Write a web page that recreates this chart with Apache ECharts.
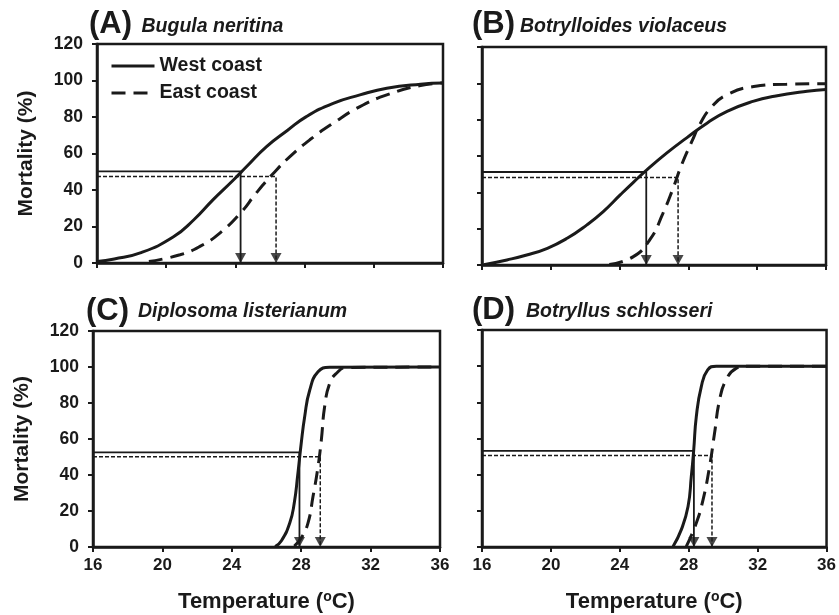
<!DOCTYPE html>
<html>
<head>
<meta charset="utf-8">
<script src="https://cdn.jsdelivr.net/npm/echarts@6/dist/echarts.min.js"></script>
<style>html,body{margin:0;padding:0;background:#fff;}#c{width:839px;height:615px;}</style>
</head>
<body>
<div id="c"></div>
<script>
// ---- data ----
const panelLabels = ['(A)', '(B)', '(C)', '(D)'];
const speciesNames = ['Bugula neritina', 'Botrylloides violaceus', 'Diplosoma listerianum', 'Botryllus schlosseri'];
const seriesNames = ['West coast', 'East coast'];
const xTicks = [16, 20, 24, 28, 32, 36];
const yTicks = [0, 20, 40, 60, 80, 100, 120];

const westA = [[16.0,0.8],[17.0,2.2],[18.5,5.5],[20.4,14.2],[21.6,23.7],[22.7,34.6],[23.9,45.6],[24.65,52.9],[25.8,63.8],[27.0,72.6],[28.1,80.2],[29.65,87.5],[31.2,92.1],[32.75,95.8],[34.7,98.0],[36.0,98.6]];
const eastA = [[19.0,0.8],[20.8,4.5],[21.95,9.1],[23.1,16.4],[24.3,27.4],[25.2,38.3],[26.2,49.2],[27.15,58.3],[28.3,67.5],[29.65,76.6],[31.2,85.7],[32.75,92.1],[34.7,97.3],[36.0,98.6]];
const westB = [[16.1,0.2],[17.45,2.8],[18.6,5.5],[19.8,9.2],[20.95,14.7],[22.1,22.1],[23.05,29.4],[24.05,38.7],[24.8,45.5],[25.6,52.5],[26.75,61.7],[27.9,70.0],[29.1,78.2],[30.25,84.6],[31.8,90.2],[33.0,92.9],[34.9,95.6],[36.0,96.6]];
const eastB = [[23.4,0.3],[24.8,4.6],[25.8,14.5],[26.5,28.0],[27.1,42.0],[27.6,55.0],[28.2,68.0],[28.7,78.0],[29.3,86.5],[30.2,93.5],[31.8,98.2],[33.7,99.5],[36.0,99.8]];
const westC = [[26.5,0.2],[26.86,3.5],[27.34,13.3],[27.6,24.4],[27.8,40.0],[28.0,57.5],[28.2,72.4],[28.49,87.1],[28.97,97.3],[29.64,99.8],[36.0,100]];
const eastC = [[27.6,0.5],[28.0,5.0],[28.39,13.3],[28.68,28.0],[28.97,44.7],[29.16,59.4],[29.35,77.9],[29.64,90.9],[30.02,96.4],[30.6,99.7],[36.0,100]];
const westD = [[27.09,0.3],[27.57,9.6],[27.96,22.4],[28.15,39.0],[28.29,53.7],[28.44,72.1],[28.73,88.7],[29.1,97.9],[29.6,100],[36.0,100]];
const eastD = [[27.86,0.3],[28.44,13.3],[28.83,26.1],[29.21,44.5],[29.5,63.0],[29.79,81.3],[30.17,92.4],[30.75,98.8],[31.33,100],[36.0,100]];

// LT50 temperatures (arrow positions) and the levels of the horizontal guide lines
const westLT50 = [24.3, 25.55, 27.9, 28.3];
const westLevel = [50.2, 51.2, 52.6, 53.2];
const eastLT50 = [26.35, 27.4, 29.1, 29.35];
const eastLevel = [47.4, 48.2, 50.2, 50.6];

const westCurves = [westA, westB, westC, westD];
const eastCurves = [eastA, eastB, eastC, eastD];

// ---- layout ----
const grids = [
  {left: 97, top: 44, width: 346, height: 219},
  {left: 482, top: 47, width: 344, height: 218},
  {left: 93, top: 331, width: 347, height: 216},
  {left: 482, top: 330, width: 345, height: 217}
];
const labelPos = [
  {l: 89, s: 141.5, t: 9, st: 17},
  {l: 472, s: 520, t: 9, st: 17},
  {l: 86, s: 138, t: 296, st: 301.5},
  {l: 472, s: 526, t: 295, st: 301.5}
];
const ink = '#1a1a1a';
const ff = 'Liberation Sans, Arial, sans-serif';

const option = {
  animation: false,
  backgroundColor: '#fff',
  title: [],
  grid: grids.map(g => Object.assign({show: true, borderColor: ink, borderWidth: 2.5, backgroundColor: 'transparent'}, g)),
  legend: {
    data: seriesNames,
    orient: 'vertical',
    left: 110, top: 56, padding: 0,
    itemWidth: 43, itemHeight: 14, itemGap: 7,
    itemStyle: {color: 'rgba(0,0,0,0)', borderColor: 'rgba(0,0,0,0)', borderWidth: 0, opacity: 0},
    lineStyle: {width: 3, color: ink},
    textStyle: {fontFamily: ff, fontWeight: 'bold', fontSize: 19.5, color: ink}
  },
  xAxis: [], yAxis: [], series: []
};

for (let i = 0; i < 4; i++) {
  option.title.push({
    text: panelLabels[i], left: labelPos[i].l, top: labelPos[i].t, padding: 0,
    textStyle: {fontFamily: ff, fontWeight: 'bold', fontSize: 31, color: ink}
  });
  option.title.push({
    text: speciesNames[i], left: labelPos[i].s, top: labelPos[i].st, padding: 0,
    textStyle: {fontFamily: ff, fontWeight: 'bold', fontStyle: 'italic', fontSize: 19.5, color: ink}
  });
  const bottom = i >= 2, leftCol = (i % 2) === 0;
  option.xAxis.push({
    type: 'value', gridIndex: i, min: xTicks[0], max: xTicks[xTicks.length - 1], interval: 4,
    axisLine: {lineStyle: {color: ink, width: 2.5}},
    axisTick: {show: true, length: 5, lineStyle: {color: ink, width: 2}},
    axisLabel: {show: bottom, margin: 10, fontFamily: ff, fontWeight: 'bold', fontSize: 17, color: ink},
    splitLine: {show: false},
    name: bottom ? 'Temperature ({sup|o}C)' : '', nameLocation: 'middle', nameGap: 43,
    nameTextStyle: {fontFamily: ff, fontWeight: 'bold', fontSize: 22, color: ink,
      rich: {sup: {fontFamily: ff, fontWeight: 'bold', fontSize: 14, color: ink, verticalAlign: 'top', padding: [0, 0, 9, 0]}}}
  });
  option.yAxis.push({
    type: 'value', gridIndex: i, min: yTicks[0], max: yTicks[yTicks.length - 1], interval: 20,
    axisLine: {show: true, lineStyle: {color: ink, width: 2.5}},
    axisTick: {show: true, length: 5, lineStyle: {color: ink, width: 2}},
    axisLabel: {show: leftCol, margin: 14, fontFamily: ff, fontWeight: 'bold', fontSize: 17.5, color: ink},
    splitLine: {show: false},
    name: leftCol ? 'Mortality (%)' : '', nameLocation: 'middle', nameGap: 60, nameRotate: 90,
    nameTextStyle: {fontFamily: ff, fontWeight: 'bold', fontSize: 21, color: ink}
  });
  // guide lines
  option.series.push({
    type: 'line', xAxisIndex: i, yAxisIndex: i, silent: true, symbol: 'none', z: 2,
    data: [[xTicks[0], westLevel[i]], [westLT50[i], westLevel[i]], [westLT50[i], 0]],
    lineStyle: {color: ink, width: 1.8, type: 'solid'}
  });
  option.series.push({
    type: 'line', xAxisIndex: i, yAxisIndex: i, silent: true, symbol: 'none', z: 2,
    data: [[xTicks[0], eastLevel[i]], [eastLT50[i], eastLevel[i]], [eastLT50[i], 0]],
    lineStyle: {color: ink, width: 1.5, type: [4, 2]}
  });
  option.series.push({
    type: 'scatter', xAxisIndex: i, yAxisIndex: i, silent: true, z: 3,
    symbol: 'path://M0,0 L10,0 L5,10 Z', symbolSize: [11, 10], symbolOffset: [0, -5],
    itemStyle: {color: ink},
    data: [[westLT50[i], 0], [eastLT50[i], 0]]
  });
  // curves
  option.series.push({
    type: 'line', name: seriesNames[0], xAxisIndex: i, yAxisIndex: i, symbol: 'none', z: 4,
    smooth: 0.5,
    data: westCurves[i], lineStyle: {color: ink, width: 3, type: 'solid'}, itemStyle: {color: ink}
  });
  option.series.push({
    type: 'line', name: seriesNames[1], xAxisIndex: i, yAxisIndex: i, symbol: 'none', z: 4,
    smooth: 0.5,
    data: eastCurves[i], lineStyle: {color: ink, width: 3, type: [14, 8]}, itemStyle: {color: ink}
  });
}

const chart = echarts.init(document.getElementById('c'), null, {renderer: 'canvas'});
chart.setOption(option);
</script>
</body>
</html>
